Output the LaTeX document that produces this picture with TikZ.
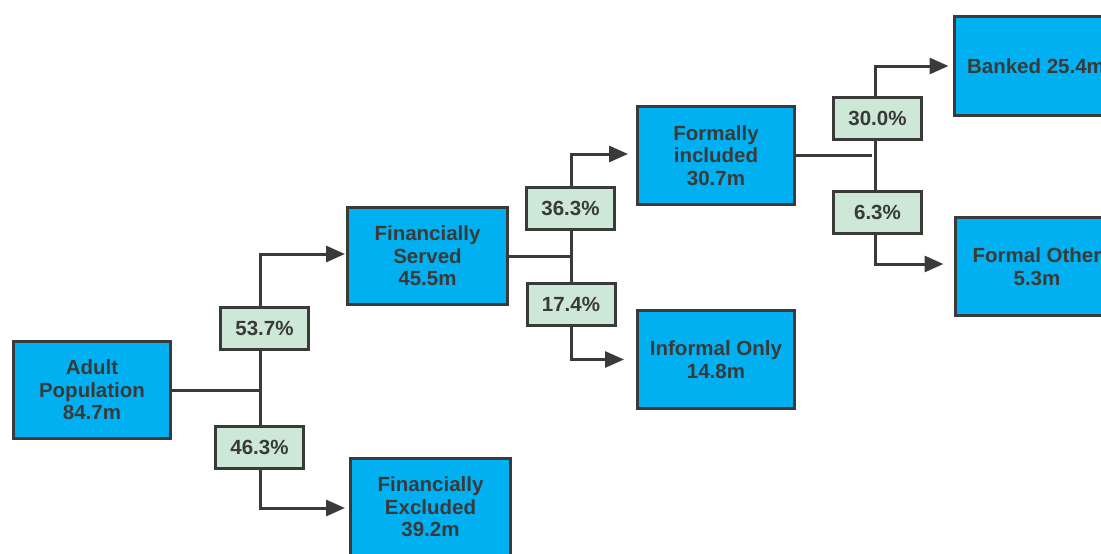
\documentclass[tikz,border=0pt]{standalone}
\usepackage{fontspec}
\setmainfont{Liberation Sans}
\usetikzlibrary{arrows.meta}
\definecolor{boxblue}{HTML}{00B0F0}
\definecolor{boxgreen}{HTML}{CDE8D6}
\definecolor{ink}{HTML}{3A3A3A}
\tikzset{
  bluebox/.style={draw=ink, line width=3pt, fill=boxblue, text=ink, align=center,
    inner sep=0pt, font=\fontsize{20.5}{22.5}\selectfont\bfseries},
  greenbox/.style={draw=ink, line width=3pt, fill=boxgreen, text=ink, align=center,
    inner sep=0pt, minimum width=88pt, minimum height=42pt, font=\fontsize{20.5}{22.5}\selectfont\bfseries},
  conn/.style={draw=ink, line width=3pt},
  arr/.style={conn, -{Triangle[length=19pt,width=16pt]}},
}
\begin{document}
\begin{tikzpicture}[x=1pt,y=-1pt]
\useasboundingbox (0,0) rectangle (1101,554);
% blue boxes
\node[bluebox, minimum width=157pt, minimum height=97pt] (adult) at (92,390) {Adult\\Population\\84.7m};
\node[bluebox, minimum width=160pt, minimum height=97pt] (served) at (427.5,256) {Financially\\Served\\45.5m};
\node[bluebox, minimum width=160pt, minimum height=97pt] (excluded) at (430.5,507) {Financially\\Excluded\\39.2m};
\node[bluebox, minimum width=157pt, minimum height=98pt] (formal) at (716,155.5) {Formally\\included\\30.7m};
\node[bluebox, minimum width=157pt, minimum height=98pt] (informal) at (716,359.5) {Informal Only\\14.8m};
\node[bluebox, minimum width=164pt, minimum height=99pt] (banked) at (1036,66) {Banked 25.4m};
\node[bluebox, minimum width=164pt, minimum height=98pt] (other) at (1037,266.5) {Formal Other\\5.3m};
% junctions
\coordinate (j1) at (260,390);
\coordinate (j2) at (571,256);
\coordinate (j3) at (875,155.5);
% connectors
\draw[conn] (adult.east) -- (j1);
\draw[arr, shorten >=1pt] (j1) |- ([yshift=2pt]served.west);
\draw[arr, shorten >=4pt] (j1) |- ([yshift=-1pt]excluded.west);
\draw[conn] (served.east) -- (j2);
\draw[arr, shorten >=8pt] (j2) |- ([yshift=1.5pt]formal.west);
\draw[arr, shorten >=12pt] (j2) |- (informal.west);
\draw[conn] (formal.east) -- ([xshift=-3pt]j3);
\draw[arr, shorten >=4pt] (j3) |- (banked.west);
\draw[arr, shorten >=10pt] (j3) |- ([yshift=2.5pt]other.west);
% percentage labels
\node[greenbox] (p537) at (264.5,328.5) {53.7\%};
\node[greenbox] (p463) at (259.5,447.5) {46.3\%};
\node[greenbox] (p363) at (570.5,208) {36.3\%};
\node[greenbox] (p174) at (571,304) {17.4\%};
\node[greenbox] (p300) at (877.5,118.5) {30.0\%};
\node[greenbox] (p63) at (877.5,212) {6.3\%};
\end{tikzpicture}
\end{document}
